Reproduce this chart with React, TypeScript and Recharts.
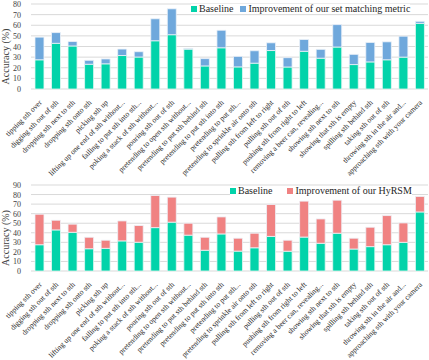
import React from "react";
import { BarChart, Bar, XAxis, YAxis, CartesianGrid } from "recharts";

const categories = [
  "tipping sth over",
  "digging sth out of sth",
  "dropping sth next to sth",
  "dropping sth onto sth",
  "picking sth up",
  "lifting up one end of sth without...",
  "failing to put sth into sth...",
  "poking a stack of sth without...",
  "pouring sth out of sth",
  "pretending to open sth without...",
  "pretending to put sth behind sth",
  "pretending to put sth into sth",
  "pretending to put sth...",
  "pretending to sprinkle air onto sth",
  "pulling sth from left to right",
  "pulling sth out of sth",
  "pushing sth from right to left",
  "removing a beer can, revealing...",
  "showing sth next to sth",
  "showing that sth is empty",
  "spilling sth behind sth",
  "taking sth out of sth",
  "throwing sth in the air and...",
  "approaching sth with your camera",
];

const baseline = [
  27.5, 43, 40.5, 23.3, 23.7, 31.5, 30.1, 45.4, 51.1, 37.5, 21.7, 38.8,
  20.8, 24.3, 36.2, 20.7, 35.5, 29, 39.5, 23, 25.5, 27.5, 30, 61.8,
];

const setMatchingGain = [
  21.3, 10.1, 4.2, 3.7, 4.6, 6.1, 5, 20.7, 24.4, 0.7, 6.9, 16.5,
  9.9, 11.7, 7.3, 8.8, 11.1, 8.3, 21.1, 9.6, 18.3, 16.9, 19.7, 1.9,
];

const hyrsmGain = [
  31.9, 10.1, 8.5, 12, 8.5, 20.9, 17.5, 33.6, 26.2, 12.5, 13.6, 17.8,
  13.5, 15.2, 33.4, 11.5, 37.6, 25.5, 34.6, 11.3, 20.3, 30.5, 20.3, 16.2,
];

const topTicks = [0, 10, 20, 30, 40, 50, 60, 70, 80];
const bottomTicks = [0, 10, 20, 30, 40, 50, 60, 70, 80, 90];

const topData = categories.map((name, i) => ({
  name,
  base: baseline[i],
  gain: setMatchingGain[i],
}));
const bottomData = categories.map((name, i) => ({
  name,
  base: baseline[i],
  gain: hyrsmGain[i],
}));

const FONT = "Liberation Serif, Times New Roman, serif";
const GREEN = "#02d3aa";
const BLUE = "#6fa8dc";
const RED = "#f08282";

const CategoryTick = (props: any) => {
  const { x, y, payload } = props;
  return (
    <g transform={`translate(${x + 3},${y + 6})`}>
      <text
        x={0}
        y={0}
        textAnchor="end"
        transform="rotate(-45)"
        fontSize={7.6}
        fontFamily={FONT}
        fill="#262626"
      >
        {payload.value}
      </text>
    </g>
  );
};

const ValueTick = (props: any) => {
  const { x, y, payload } = props;
  return (
    <text x={x - 2} y={y + 3} textAnchor="end" fontSize={8} fontFamily={FONT} fill="#404040">
      {payload.value}
    </text>
  );
};

const AxisTitle = (props: any) => {
  const { viewBox } = props;
  const cx = viewBox.x + 9;
  const cy = viewBox.y + viewBox.height / 2 + 10;
  return (
    <text
      x={cx}
      y={cy}
      transform={`rotate(-90, ${cx}, ${cy})`}
      textAnchor="middle"
      fontSize={10}
      fontFamily={FONT}
      fill="#404040"
    >
      Accuracy (%)
    </text>
  );
};

function LegendBox(props: { left: number; top: number; gap: number; label: string; color: string }) {
  return (
    <div
      style={{
        position: "absolute",
        left: props.left,
        top: props.top,
        display: "flex",
        alignItems: "center",
        background: "#fff",
        fontFamily: FONT,
        fontSize: 10,
        color: "#262626",
        lineHeight: "10px",
        whiteSpace: "nowrap",
      }}
    >
      <span style={{ width: 6, height: 6, background: GREEN, marginRight: 2 }} />
      <span style={{ marginRight: props.gap }}>Baseline</span>
      <span style={{ width: 6, height: 6, background: props.color, marginRight: 2 }} />
      <span>{props.label}</span>
    </div>
  );
}

function StackChart(props: {
  data: any[];
  ticks: number[];
  max: number;
  gainColor: string;
  top: number;
  axisHeight: number;
}) {
  const { data, ticks, max, gainColor, top, axisHeight } = props;
  return (
    <BarChart
      width={429}
      height={180}
      data={data}
      margin={{ top, right: 1, left: 0, bottom: 0 }}
      barCategoryGap="24%"
    >
      <CartesianGrid vertical={false} stroke="#d9d9d9" />
      <XAxis
        dataKey="name"
        interval={0}
        height={axisHeight}
        tick={<CategoryTick />}
        tickLine={false}
        axisLine={false}
      />
      <YAxis
        width={31}
        domain={[0, max]}
        ticks={ticks}
        interval={0}
        tickLine={false}
        axisLine={false}
        tick={<ValueTick />}
        label={<AxisTitle />}
      />
      <Bar dataKey="base" stackId="a" fill={GREEN} stroke="#e6f7f2" strokeWidth={0.8} isAnimationActive={false} />
      <Bar dataKey="gain" stackId="a" fill={gainColor} stroke="#eef3f9" strokeWidth={0.8} isAnimationActive={false} />
    </BarChart>
  );
}

export default function App() {
  return (
    <div style={{ position: "absolute", left: 0, top: 0, width: 429, height: 360, background: "#fff" }}>
      <div style={{ position: "relative", width: 429, height: 180 }}>
        <StackChart data={topData} ticks={topTicks} max={80} gainColor={BLUE} top={4} axisHeight={91} />
        <LegendBox left={191} top={4} gap={7} label="Improvement of our set matching metric" color={BLUE} />
      </div>
      <div style={{ position: "relative", width: 429, height: 180 }}>
        <StackChart data={bottomData} ticks={bottomTicks} max={90} gainColor={RED} top={5} axisHeight={89} />
        <LegendBox left={230} top={6} gap={15} label="Improvement of our HyRSM" color={RED} />
      </div>
    </div>
  );
}
